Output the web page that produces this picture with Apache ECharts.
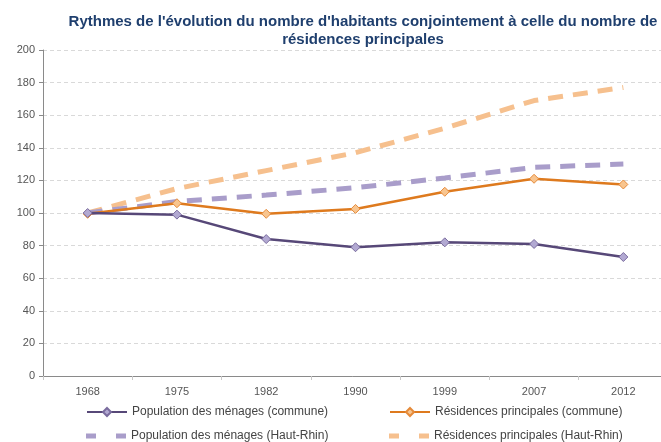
<!DOCTYPE html>
<html>
<head>
<meta charset="utf-8">
<script src="https://cdn.jsdelivr.net/npm/echarts@6/dist/echarts.min.js"></script>
<style>
  html, body { margin: 0; padding: 0; background: #fff; }
  #chart { width: 661px; height: 442px; }
</style>
</head>
<body>
<div id="chart"></div>
<script>
// années des recensements
var annees = ['1968', '1975', '1982', '1990', '1999', '2007', '2012'];
// base 100 en 1968
var popCommune = [100, 99, 84, 79, 82, 81, 73];
var resCommune = [99.5, 106, 99.5, 102.5, 113, 121, 117.5];
var popHautRhin = [100, 107, 111, 115.5, 121.5, 128, 130];
var resHautRhin = [100, 115, 126, 137, 152, 169, 177];

var noms = [
  'Population des ménages (commune)',
  'Résidences principales (commune)',
  'Population des ménages (Haut-Rhin)',
  'Résidences principales (Haut-Rhin)'
];

var chart = echarts.init(document.getElementById('chart'));

var legendeTexte = { color: '#444', fontSize: 12, fontFamily: 'Liberation Sans, Arial, sans-serif' };
// icône en tirets pour les séries du département
var iconeTirets = 'path://M0,0H10V5H0Z M30,0H40V5H30Z';

var option = {
  animation: false,
  title: {
    text: "Rythmes de l'évolution du nombre d'habitants conjointement à celle du nombre de\nrésidences principales",
    left: 358,
    textAlign: 'center',
    top: 8,
    textStyle: {
      color: '#1f3f6e',
      fontSize: 15,
      fontWeight: 'bold',
      fontFamily: 'Liberation Sans, Arial, sans-serif',
      lineHeight: 18
    }
  },
  legend: [
    { data: [noms[0]], left: 81, top: 401, itemWidth: 40, itemHeight: 10, itemGap: 5, textStyle: legendeTexte },
    { data: [noms[1]], left: 384, top: 401, itemWidth: 40, itemHeight: 10, itemGap: 5, textStyle: legendeTexte },
    { data: [{ name: noms[2], icon: iconeTirets }], left: 81, top: 425, itemWidth: 40, itemHeight: 5, itemGap: 5, textStyle: legendeTexte },
    { data: [{ name: noms[3], icon: iconeTirets }], left: 384, top: 425, itemWidth: 40, itemHeight: 5, itemGap: 5, textStyle: legendeTexte }
  ],
  grid: {
    left: 43,
    top: 50,
    width: 625,
    height: 326,
    outerBoundsMode: 'none'
  },
  xAxis: {
    type: 'category',
    data: annees,
    boundaryGap: true,
    axisLine: { lineStyle: { color: '#8a8a8a', width: 1 } },
    axisTick: { show: true, length: 4, lineStyle: { color: '#c8c8c8' } },
    axisLabel: { color: '#555', fontSize: 11, margin: 10, fontFamily: 'Liberation Sans, Arial, sans-serif' }
  },
  yAxis: {
    type: 'value',
    min: 0,
    max: 200,
    interval: 20,
    axisLine: { show: true, lineStyle: { color: '#8a8a8a', width: 1 } },
    axisTick: { show: true, length: 4, lineStyle: { color: '#8a8a8a' } },
    axisLabel: { color: '#555', fontSize: 11, margin: 8, fontFamily: 'Liberation Sans, Arial, sans-serif' },
    splitLine: { show: true, lineStyle: { color: '#d9d9d9', type: [4, 3] } }
  },
  series: [
    {
      name: noms[3],
      type: 'line',
      data: resHautRhin,
      showSymbol: false,
      symbol: 'none',
      z: 2,
      itemStyle: { color: '#f6c08e' },
      lineStyle: { color: '#f6c08e', width: 5, type: [15, 10] }
    },
    {
      name: noms[2],
      type: 'line',
      data: popHautRhin,
      showSymbol: false,
      symbol: 'none',
      z: 2,
      itemStyle: { color: '#a99dca' },
      lineStyle: { color: '#a99dca', width: 5, type: [15, 10] }
    },
    {
      name: noms[1],
      type: 'line',
      data: resCommune,
      symbol: 'diamond',
      symbolSize: 9,
      z: 3,
      itemStyle: { color: '#f8c58f', borderColor: '#e58a3a', borderWidth: 1 },
      lineStyle: { color: '#de7a1e', width: 2.5 }
    },
    {
      name: noms[0],
      type: 'line',
      data: popCommune,
      symbol: 'diamond',
      symbolSize: 9,
      z: 4,
      itemStyle: { color: '#b2a9d2', borderColor: '#7a6c9e', borderWidth: 1 },
      lineStyle: { color: '#574878', width: 2.5 }
    }
  ]
};

option && chart.setOption(option);
</script>
</body>
</html>
